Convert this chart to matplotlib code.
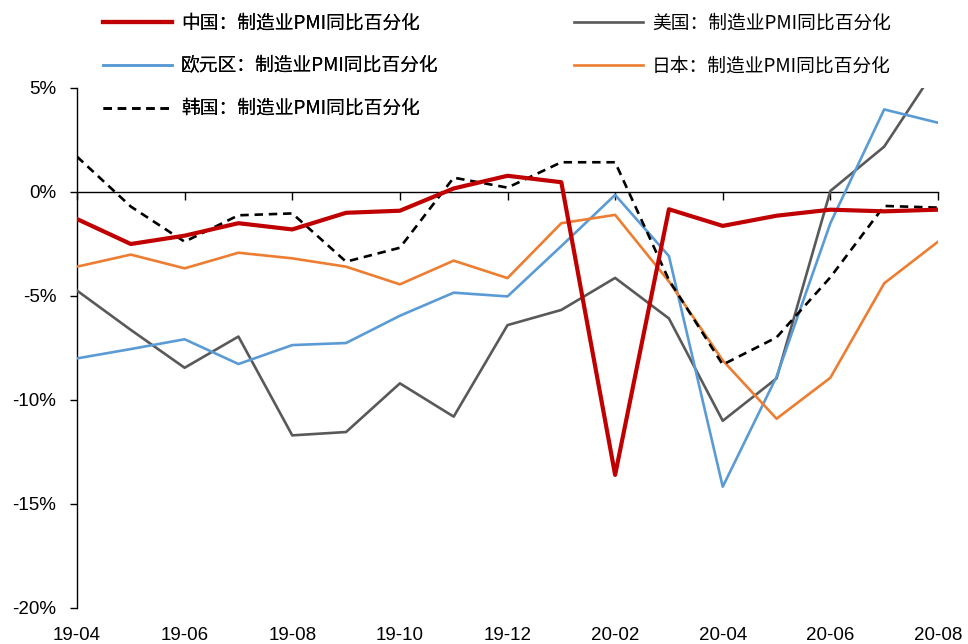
import matplotlib
matplotlib.use("Agg")
import matplotlib.pyplot as plt
from matplotlib.ticker import FuncFormatter

months = ["19-04", "19-05", "19-06", "19-07", "19-08", "19-09", "19-10", "19-11", "19-12",
          "20-01", "20-02", "20-03", "20-04", "20-05", "20-06", "20-07", "20-08"]

china = [-1.3, -2.5, -2.1, -1.5, -1.8, -1.0, -0.9, 0.17, 0.78, 0.47, -13.6, -0.83, -1.63, -1.14, -0.85, -0.93, -0.85]
usa = [-4.74, -6.63, -8.45, -6.95, -11.7, -11.54, -9.2, -10.8, -6.4, -5.67, -4.13, -6.08, -11.0, -8.96, 0.05, 2.18, 6.1]
euro = [-8.0, -7.55, -7.08, -8.27, -7.36, -7.26, -5.95, -4.84, -5.02, -2.6, -0.14, -3.08, -14.17, -8.88, -1.5, 3.97, 3.33]
japan = [-3.59, -3.01, -3.67, -2.92, -3.19, -3.59, -4.44, -3.3, -4.14, -1.5, -1.1, -4.3, -8.1, -10.9, -8.93, -4.39, -2.39]
korea = [1.7, -0.7, -2.39, -1.12, -1.03, -3.35, -2.68, 0.69, 0.21, 1.43, 1.43, -4.23, -8.3, -6.99, -4.1, -0.67, -0.75]

labels = ["中国：制造业PMI同比百分化", "美国：制造业PMI同比百分化", "欧元区：制造业PMI同比百分化",
          "日本：制造业PMI同比百分化", "韩国：制造业PMI同比百分化"]

yticks = [5, 0, -5, -10, -15, -20]

plt.rcParams['font.family'] = ['Liberation Sans', 'DejaVu Sans']

fig = plt.figure(figsize=(9.68, 6.44), dpi=100)
ax = fig.add_axes([77/968, 1-608/644, (938-77)/968, (608-88)/644])

x = list(range(len(months)))
l_usa, = ax.plot(x, usa, color="#595959", lw=1.9, zorder=3, label=labels[1])
l_euro, = ax.plot(x, euro, color="#5B9BD5", lw=1.9, zorder=3, label=labels[2])
l_japan, = ax.plot(x, japan, color="#ED7D31", lw=1.9, zorder=3, label=labels[3])
l_korea, = ax.plot(x, korea, color="black", lw=1.9, ls=(0, (3.2, 2.2)), zorder=4, label=labels[4])
l_china, = ax.plot(x, china, color="#C00000", lw=3.0, zorder=5, label=labels[0])

ax.set_xlim(0, len(months) - 1)
ax.set_ylim(-20, 5)

for s in ["top", "right", "bottom"]:
    ax.spines[s].set_visible(False)
ax.spines["left"].set_linewidth(1.0)

ax.set_yticks(yticks)
ax.yaxis.set_major_formatter(FuncFormatter(lambda v, p: f"{int(v)}%"))
ax.tick_params(axis="y", direction="out", length=5, width=1.0, pad=10, labelsize=13.5)

tick_idx = x[::2]
ax.set_xticks(tick_idx)
ax.set_xticklabels([months[i] for i in tick_idx])
ax.tick_params(axis="x", length=0, pad=14, labelsize=13.5)

sec = ax.secondary_xaxis(0, transform=ax.transData)
sec.set_xticks(tick_idx)
sec.set_xticklabels([])
sec.tick_params(axis="x", direction="out", length=6, width=1.0)
sec.spines["bottom"].set_linewidth(1.0)

cjk = {"family": ["Noto Sans CJK SC", "DejaVu Sans"], "size": 13.5}
common = dict(loc="upper left", frameon=False, prop=cjk, handlelength=3.7, handletextpad=0.45,
              labelspacing=1.15, borderpad=0, borderaxespad=0)
leg1 = fig.legend(handles=[l_china, l_euro, l_korea], labels=[labels[0], labels[2], labels[4]],
                  bbox_to_anchor=(103/968, 1-13/644), **common)
leg2 = fig.legend(handles=[l_usa, l_japan], labels=[labels[1], labels[3]],
                  bbox_to_anchor=(574/968, 1-13/644), **common)
fig.add_artist(leg1)

fig.savefig("out.png", dpi=100)
